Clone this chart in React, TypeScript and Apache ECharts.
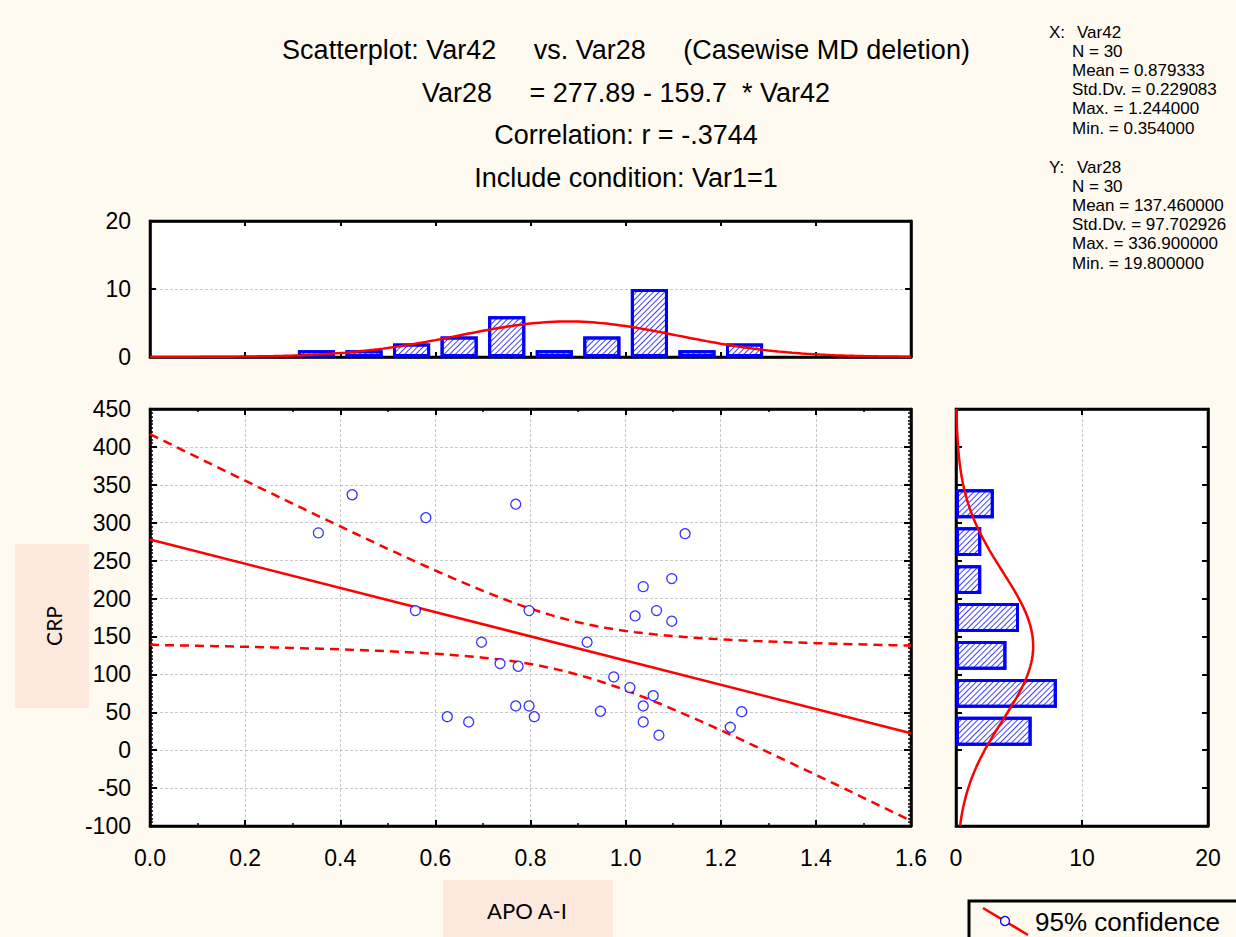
import React, { useEffect, useRef } from "react";
import * as echarts from "echarts";

// ---- summary statistics (from the chart text) ----
const N = 30;
const X_MEAN = 0.879333;
const X_SD = 0.229083;
const Y_MEAN = 137.46;
const Y_SD = 97.702926;
const R = -0.3744;
const INTERCEPT = 277.89;
const SLOPE = -159.7;
const T_975_28 = 2.0484;

// ---- scatter data (APO A-I vs CRP) ----
const apoA1 = [0.354, 0.425, 0.58, 0.769, 0.558, 0.797, 0.697, 0.919, 0.736, 0.774, 0.975, 0.769, 0.797, 0.808, 0.625, 0.67, 0.947, 1.125, 1.097, 1.037, 1.065, 1.02, 1.097, 1.009, 1.058, 1.037, 1.037, 1.07, 1.22, 1.244];
const crp = [286.6, 336.9, 306.7, 324.4, 184.1, 184.1, 142.4, 142.4, 114.2, 110.7, 96.6, 58.3, 58.3, 44.2, 44.2, 37.2, 51.3, 285.6, 226.3, 215.7, 184.1, 177.1, 170.1, 82.5, 71.9, 58.3, 37.2, 19.8, 30.2, 50.8];

// ---- histogram of X (top) ----
const xBinStart = [0.3, 0.4, 0.5, 0.6, 0.7, 0.8, 0.9, 1.0, 1.1, 1.2];
const xBinCount = [1, 1, 2, 3, 6, 1, 3, 10, 1, 2];
const X_BIN_W = 0.1;
const X_MIN = 0;
const X_MAX = 1.6;

// ---- histogram of Y (right) ----
const yBinStart = [0, 50, 100, 150, 200, 250, 300];
const yBinCount = [6, 8, 4, 5, 2, 2, 3];
const Y_BIN_W = 50;
const Y_MIN = -100;
const Y_MAX = 450;

// ---- texts ----
const titleLines = [
  "Scatterplot: Var42     vs. Var28     (Casewise MD deletion)",
  "Var28     = 277.89 - 159.7  * Var42",
  "Correlation: r = -.3744",
  "Include condition: Var1=1",
];
const xStatsHead = ["X:", "Var42"];
const xStats = ["N = 30", "Mean = 0.879333", "Std.Dv. = 0.229083", "Max. = 1.244000", "Min. = 0.354000"];
const yStatsHead = ["Y:", "Var28"];
const yStats = ["N = 30", "Mean = 137.460000", "Std.Dv. = 97.702926", "Max. = 336.900000", "Min. = 19.800000"];

const FONT = "'Liberation Sans', Arial, Helvetica, sans-serif";
const LABEL_FONT = "Lato, 'Open Sans', sans-serif";
const BG = "#fffaf0";

function pdf(v: number, m: number, s: number) {
  return Math.exp(-0.5 * ((v - m) / s) ** 2) / (s * Math.sqrt(2 * Math.PI));
}

export default function App() {
  const ref = useRef<HTMLDivElement>(null);
  useEffect(() => {
    if (!ref.current) return;
    const chart = echarts.init(ref.current, undefined, { renderer: "svg" });

    // derived fit curves
    const sRes = Y_SD * Math.sqrt(((1 - R * R) * (N - 1)) / (N - 2));
    const sxx = (N - 1) * X_SD * X_SD;
    const upper: number[][] = [];
    const lower: number[][] = [];
    for (let i = 0; i <= 80; i++) {
      const x = i * 0.02;
      const yh = INTERCEPT + SLOPE * x;
      const h = T_975_28 * sRes * Math.sqrt(1 / N + (x - X_MEAN) ** 2 / sxx);
      upper.push([x, yh + h]);
      lower.push([x, yh - h]);
    }
    const xNorm: number[][] = [];
    for (let i = 0; i <= 160; i++) {
      const x = i * 0.01;
      xNorm.push([x, N * X_BIN_W * pdf(x, X_MEAN, X_SD)]);
    }
    const yNorm: number[][] = [];
    for (let i = 0; i <= 110; i++) {
      const y = -100 + i * 5;
      yNorm.push([N * Y_BIN_W * pdf(y, Y_MEAN, Y_SD), y]);
    }

    // histogram bins laid on hidden category axes whose bands equal the bins
    const nxBins = Math.round((X_MAX - X_MIN) / X_BIN_W);
    const xCats = Array.from({ length: nxBins }, (_, i) => String(i));
    const xBarData: (number | string)[] = xCats.map(() => "-");
    xBinStart.forEach((s, i) => { xBarData[Math.round((s - X_MIN) / X_BIN_W)] = xBinCount[i]; });
    const nyBins = Math.round((Y_MAX - Y_MIN) / Y_BIN_W);
    const yCats = Array.from({ length: nyBins }, (_, i) => String(i));
    const yBarData: (number | string)[] = yCats.map(() => "-");
    yBinStart.forEach((s, i) => { yBarData[Math.round((s - Y_MIN) / Y_BIN_W)] = yBinCount[i]; });

    const decal = { symbol: "rect", symbolSize: 1, color: "rgba(30,30,255,0.85)", dashArrayX: [1, 0], dashArrayY: [1, 3], rotation: -Math.PI / 4 };
    const barStyle = { color: "#ffffff", borderColor: "#0000ff", borderWidth: 3, decal };

    const tick = (len: number) => ({ show: true, inside: true, length: len, lineStyle: { color: "#000", width: 2 } });
    const line = { show: true, onZero: false, lineStyle: { color: "#000", width: 2.5 } };
    const split = { show: true, lineStyle: { color: "#c8c8c8", width: 1, type: [3, 2] } };
    const lbl = (fmt?: (v: number) => string) => ({ show: true, color: "#000", fontSize: 23, fontFamily: FONT, formatter: fmt });
    const minor = (n: number, len: number) => ({ show: true, splitNumber: n, length: len, lineStyle: { color: "#000", width: 1.5 } });
    const noLbl = { show: false };

    const gridBox = { show: true, borderColor: "#000", borderWidth: 2.5, backgroundColor: "#fff", containLabel: false };

    const graphics: any[] = [];
    const titleY = [50, 93, 135, 178];
    titleLines.forEach((t, i) => {
      graphics.push({ type: "text", x: 626, y: titleY[i], style: { text: t, fill: "#000", font: `27px ${FONT}`, textAlign: "center", textVerticalAlign: "middle" } });
    });
    const statBlock = (head: string[], lines: string[], y0: number) => {
      graphics.push({ type: "text", x: 1049, y: y0, style: { text: head[0], fill: "#000", font: `17px ${FONT}`, textVerticalAlign: "middle" } });
      graphics.push({ type: "text", x: 1077, y: y0, style: { text: head[1], fill: "#000", font: `17px ${FONT}`, textVerticalAlign: "middle" } });
      lines.forEach((t, i) => {
        graphics.push({ type: "text", x: 1072, y: y0 + 19.2 * (i + 1), style: { text: t, fill: "#000", font: `17px ${FONT}`, textVerticalAlign: "middle" } });
      });
    };
    statBlock(xStatsHead, xStats, 32);
    statBlock(yStatsHead, yStats, 167);
    // axis title boxes
    graphics.push({ type: "rect", shape: { x: 15, y: 544, width: 74, height: 164 }, style: { fill: "#fce8dc" } });
    graphics.push({ type: "text", x: 53, y: 626, rotation: Math.PI / 2, style: { text: "CRP", fill: "#000", font: `21px ${LABEL_FONT}`, textAlign: "center", textVerticalAlign: "middle" } });
    graphics.push({ type: "rect", shape: { x: 443, y: 880, width: 170, height: 60 }, style: { fill: "#fce8dc" } });
    graphics.push({ type: "text", x: 527, y: 910, style: { text: "APO A-I", fill: "#000", font: `22px ${LABEL_FONT}`, textAlign: "center", textVerticalAlign: "middle" } });
    // legend
    graphics.push({ type: "rect", shape: { x: 969, y: 901, width: 300, height: 60 }, style: { fill: BG, stroke: "#000", lineWidth: 3 } });
    graphics.push({ type: "line", shape: { x1: 983, y1: 908, x2: 1028, y2: 935 }, style: { stroke: "#ff0000", lineWidth: 2.5 } });
    graphics.push({ type: "circle", shape: { cx: 1005, cy: 921, r: 4.5 }, style: { fill: "#fff", stroke: "#0000ff", lineWidth: 1.3 } });
    graphics.push({ type: "text", x: 1035, y: 922, style: { text: "95% confidence", fill: "#000", font: `26px ${FONT}`, textVerticalAlign: "middle" } });

    const option: any = {
      animation: false,
      backgroundColor: BG,
      grid: [
        { ...gridBox, left: 150, top: 221, width: 761, height: 136 },
        { ...gridBox, left: 150, top: 409, width: 761, height: 417 },
        { ...gridBox, left: 956, top: 409, width: 252, height: 417 },
      ],
      xAxis: [
        { gridIndex: 0, type: "value", min: X_MIN, max: X_MAX, interval: 0.2, axisLine: line, axisTick: tick(5), axisLabel: noLbl, splitLine: { show: false } },
        { gridIndex: 0, type: "value", position: "top", min: X_MIN, max: X_MAX, interval: 0.2, axisLine: line, axisTick: tick(5), axisLabel: noLbl, splitLine: { show: false } },
        { gridIndex: 1, type: "value", min: X_MIN, max: X_MAX, interval: 0.2, axisLine: line, axisTick: tick(6), minorTick: minor(2, 3), axisLabel: { ...lbl((v) => v.toFixed(1)), margin: 20 }, splitLine: split },
        { gridIndex: 1, type: "value", position: "top", min: X_MIN, max: X_MAX, interval: 0.2, axisLine: line, axisTick: tick(6), minorTick: minor(2, 3), axisLabel: noLbl, splitLine: { show: false } },
        { gridIndex: 2, type: "value", min: 0, max: 20, interval: 10, axisLine: line, axisTick: tick(6), axisLabel: { ...lbl(), margin: 20 }, splitLine: split },
        { gridIndex: 2, type: "value", position: "top", min: 0, max: 20, interval: 10, axisLine: line, axisTick: tick(6), axisLabel: noLbl, splitLine: { show: false } },
        { gridIndex: 0, type: "category", data: xCats, show: false, boundaryGap: true },
      ],
      yAxis: [
        { gridIndex: 0, type: "value", min: 0, max: 20, interval: 10, axisLine: line, axisTick: tick(6), axisLabel: { ...lbl(), margin: 19 }, splitLine: split },
        { gridIndex: 0, type: "value", position: "right", min: 0, max: 20, interval: 10, axisLine: line, axisTick: tick(6), axisLabel: noLbl, splitLine: { show: false } },
        { gridIndex: 1, type: "value", min: Y_MIN, max: Y_MAX, interval: 50, axisLine: line, axisTick: tick(7), minorTick: minor(10, 3), axisLabel: { ...lbl(), margin: 19 }, splitLine: split },
        { gridIndex: 1, type: "value", position: "right", min: Y_MIN, max: Y_MAX, interval: 50, axisLine: line, axisTick: tick(7), minorTick: minor(10, 3), axisLabel: noLbl, splitLine: { show: false } },
        { gridIndex: 2, type: "value", min: Y_MIN, max: Y_MAX, interval: 50, axisLine: line, axisTick: tick(6), axisLabel: noLbl, splitLine: { show: false } },
        { gridIndex: 2, type: "value", position: "right", min: Y_MIN, max: Y_MAX, interval: 50, axisLine: line, axisTick: tick(6), axisLabel: noLbl, splitLine: { show: false } },
        { gridIndex: 2, type: "category", data: yCats, show: false, boundaryGap: true },
      ],
      series: [
        { type: "bar", xAxisIndex: 6, yAxisIndex: 0, data: xBarData, barWidth: "78%", itemStyle: barStyle, z: 2 },
        { type: "line", xAxisIndex: 0, yAxisIndex: 0, data: xNorm, showSymbol: false, symbol: "none", lineStyle: { color: "#ff0000", width: 2.5 }, z: 4 },
        { type: "bar", xAxisIndex: 4, yAxisIndex: 6, data: yBarData, barWidth: "76%", itemStyle: barStyle, z: 2 },
        { type: "line", xAxisIndex: 4, yAxisIndex: 4, data: yNorm, showSymbol: false, symbol: "none", lineStyle: { color: "#ff0000", width: 2.5 }, z: 4 },
        { type: "line", xAxisIndex: 2, yAxisIndex: 2, data: [[0, INTERCEPT], [1.6, INTERCEPT + SLOPE * 1.6]], showSymbol: false, symbol: "none", lineStyle: { color: "#ff0000", width: 2.5 }, z: 3 },
        { type: "line", xAxisIndex: 2, yAxisIndex: 2, data: upper, showSymbol: false, symbol: "none", lineStyle: { color: "#ff0000", width: 2.5, type: [9, 6] }, z: 3 },
        { type: "line", xAxisIndex: 2, yAxisIndex: 2, data: lower, showSymbol: false, symbol: "none", lineStyle: { color: "#ff0000", width: 2.5, type: [9, 6] }, z: 3 },
        {
          type: "scatter",
          xAxisIndex: 2,
          yAxisIndex: 2,
          data: apoA1.map((x, i) => [x, crp[i]]),
          symbol: "circle",
          symbolSize: 10,
          itemStyle: { color: "#ffffff", borderColor: "#0000ff", borderWidth: 1.3 },
          z: 5,
        },
      ],
      graphic: graphics,
    };
    chart.setOption(option);
    return () => chart.dispose();
  }, []);
  return <div ref={ref} style={{ position: "fixed", left: 0, top: 0, width: 1236, height: 937 }} />;
}
